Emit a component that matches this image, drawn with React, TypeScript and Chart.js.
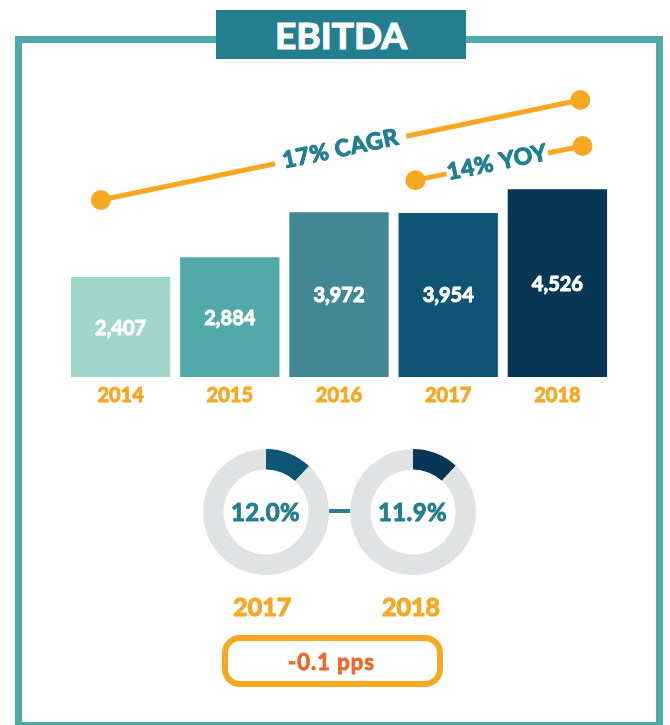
import React, { useEffect, useRef } from "react";
import { Chart, registerables } from "chart.js";

Chart.register(...registerables);

// ---- data ----
const years = ["2014", "2015", "2016", "2017", "2018"];
const ebitda = [2407, 2884, 3972, 3954, 4526];
const barColors = ["#A1D7CB", "#51A9A9", "#418794", "#0E5475", "#083756"];

const marginYears = ["2017", "2018"];
const marginValues = [12.0, 11.9];
const marginColors = ["#0E5475", "#083756"];
const marginChange = "-0.1 pps";

const cagrLabel = "17% CAGR";
const yoyLabel = "14% YOY";
// annotation end points: x as category index, y in EBITDA units
const cagrX = [-0.18, 4.21];
const cagrY = [4265, 6675];
const yoyX = [2.7, 4.23];
const yoyY = [4740, 5566];

const ORANGE = "#F7A823";
const TEAL = "#237F8F";
const FONT = "Lato, 'Open Sans', sans-serif";
const W = 700;

const heavy = (color: string, w = 0.8) => ({
  WebkitTextStroke: `${w}px ${color}`,
});

const annotationPlugin = {
  id: "annotations",
  afterDatasetsDraw(chart: any) {
    const ctx = chart.ctx;
    const meta = chart.getDatasetMeta(0);
    ctx.save();
    ctx.fillStyle = "#FFFFFF";
    ctx.strokeStyle = "#FFFFFF";
    ctx.lineWidth = 1;
    ctx.lineJoin = "round";
    ctx.font = `${W} 20px ${FONT}`;
    ctx.textAlign = "center";
    ctx.textBaseline = "middle";
    meta.data.forEach((bar: any, i: number) => {
      const t = ebitda[i].toLocaleString("en-US");
      const yy = (bar.y + bar.base) / 2 + 1;
      ctx.strokeText(t, bar.x, yy);
      ctx.fillText(t, bar.x, yy);
    });
    ctx.restore();

    const xs = chart.scales.x;
    const ys = chart.scales.y;
    const draw = (px: number[], py: number[], label: string, frac: number, pad: number) => {
      const x1 = xs.getPixelForValue(px[0]);
      const y1 = ys.getPixelForValue(py[0]);
      const x2 = xs.getPixelForValue(px[1]);
      const y2 = ys.getPixelForValue(py[1]);
      const len = Math.hypot(x2 - x1, y2 - y1);
      const ux = (x2 - x1) / len;
      const uy = (y2 - y1) / len;
      const angle = Math.atan2(y2 - y1, x2 - x1);
      ctx.save();
      ctx.font = `${W} 23px ${FONT}`;
      if ("letterSpacing" in ctx) (ctx as any).letterSpacing = "0.6px";
      const w = ctx.measureText(label).width;
      const cx = x1 + (x2 - x1) * frac;
      const cy = y1 + (y2 - y1) * frac;
      const h = w / 2 + pad;
      ctx.strokeStyle = ORANGE;
      ctx.lineWidth = 5;
      ctx.lineCap = "butt";
      ctx.beginPath();
      ctx.moveTo(x1, y1);
      ctx.lineTo(cx - ux * h, cy - uy * h);
      ctx.moveTo(cx + ux * h, cy + uy * h);
      ctx.lineTo(x2, y2);
      ctx.stroke();
      ctx.fillStyle = ORANGE;
      [[x1, y1], [x2, y2]].forEach(([a, b]) => {
        ctx.beginPath();
        ctx.arc(a, b, 10, 0, Math.PI * 2);
        ctx.fill();
      });
      ctx.translate(cx, cy);
      ctx.rotate(angle);
      ctx.fillStyle = TEAL;
      ctx.strokeStyle = TEAL;
      ctx.lineWidth = 1.2;
      ctx.lineJoin = "round";
      ctx.textAlign = "center";
      ctx.textBaseline = "middle";
      ctx.strokeText(label, 0, -1);
      ctx.fillText(label, 0, -1);
      ctx.restore();
    };
    draw(cagrX, cagrY, cagrLabel, 0.5, 8);
    draw(yoyX, yoyY, yoyLabel, 0.49, 1);
  },
};

function BarChart() {
  const ref = useRef<HTMLCanvasElement>(null);
  useEffect(() => {
    const chart = new Chart(ref.current as HTMLCanvasElement, {
      type: "bar",
      data: {
        labels: years,
        datasets: [
          {
            data: ebitda,
            backgroundColor: barColors,
            borderWidth: 0,
            barPercentage: 0.91,
            categoryPercentage: 1,
          },
        ],
      },
      options: {
        animation: false,
        responsive: false,
        maintainAspectRatio: false,
        layout: { padding: { left: 66, right: 58, top: 45, bottom: 6 } },
        plugins: { legend: { display: false }, tooltip: { enabled: false } },
        scales: {
          x: {
            grid: { display: false, drawTicks: false },
            border: { display: false },
            ticks: {
              color: ORANGE,
              textStrokeColor: ORANGE,
              textStrokeWidth: 1,
              padding: 6.5,
              font: { family: FONT, size: 20, weight: W },
              maxRotation: 0,
            },
          },
          y: { display: false, min: 0, max: 8000 },
        },
      },
      plugins: [annotationPlugin],
    } as any);
    return () => chart.destroy();
  }, []);
  return (
    <canvas
      ref={ref}
      width={670}
      height={420}
      style={{ position: "absolute", left: 0, top: 0, width: 670, height: 420 }}
    />
  );
}

function Donut({ index, cx, cy }: { index: number; cx: number; cy: number }) {
  const ref = useRef<HTMLCanvasElement>(null);
  useEffect(() => {
    const v = marginValues[index];
    const chart = new Chart(ref.current as HTMLCanvasElement, {
      type: "doughnut",
      data: {
        labels: ["EBITDA margin", "Rest"],
        datasets: [
          {
            data: [v, 100 - v],
            backgroundColor: [marginColors[index], "#E1E2E4"],
            borderWidth: 0,
          },
        ],
      },
      options: {
        animation: false,
        responsive: false,
        maintainAspectRatio: false,
        cutout: "67.5%",
        rotation: 0,
        plugins: { legend: { display: false }, tooltip: { enabled: false } },
      },
    } as any);
    return () => chart.destroy();
  }, [index]);
  return (
    <>
      <canvas
        ref={ref}
        width={126}
        height={126}
        style={{ position: "absolute", left: cx - 63, top: cy - 63, width: 126, height: 126 }}
      />
      <div
        style={{
          position: "absolute",
          left: cx - 60,
          top: cy - 15,
          width: 120,
          height: 30,
          lineHeight: "30px",
          textAlign: "center",
          color: TEAL,
          fontFamily: FONT,
          fontWeight: W,
          fontSize: 24,
          letterSpacing: 0.4,
          ...heavy(TEAL, 1),
        }}
      >
        {marginValues[index].toFixed(1)}%
      </div>
    </>
  );
}

export default function App() {
  return (
    <div
      style={{
        position: "absolute",
        left: 0,
        top: 0,
        width: 670,
        height: 725,
        overflow: "hidden",
        background: "#FFFFFF",
        fontFamily: FONT,
      }}
    >
      <div
        style={{
          position: "absolute",
          left: 15,
          top: 36,
          width: 648,
          height: 693,
          border: "7.5px solid #4FABA9",
          boxSizing: "border-box",
        }}
      />
      <div
        style={{
          position: "absolute",
          left: 216,
          top: 10,
          width: 250,
          height: 49,
          background: TEAL,
          color: "#FFFFFF",
          fontWeight: W,
          fontSize: 37,
          display: "flex",
          alignItems: "center",
          justifyContent: "center",
          lineHeight: "49px",
          ...heavy("#FFFFFF", 1.2),
        }}
      >
        EBITDA
      </div>
      <BarChart />
      <div
        style={{
          position: "absolute",
          left: 328,
          top: 509,
          width: 22,
          height: 4,
          background: "#2A8090",
        }}
      />
      <Donut index={0} cx={265.5} cy={511.5} />
      <Donut index={1} cx={412.5} cy={511.5} />
      {marginYears.map((y, i) => (
        <div
          key={y}
          style={{
            position: "absolute",
            left: (i === 0 ? 262.3 : 411) - 60,
            top: 591,
            width: 120,
            height: 30,
            lineHeight: "30px",
            textAlign: "center",
            color: ORANGE,
            fontWeight: W,
            fontSize: 25,
            ...heavy(ORANGE, 1.2),
          }}
        >
          {y}
        </div>
      ))}
      <div
        style={{
          position: "absolute",
          left: 222,
          top: 635,
          width: 221,
          height: 52,
          border: `6px solid ${ORANGE}`,
          borderRadius: 18,
          boxSizing: "border-box",
          display: "flex",
          alignItems: "center",
          justifyContent: "center",
          paddingRight: 2,
          color: "#E9692B",
          fontWeight: W,
          fontSize: 22,
          letterSpacing: 1,
          ...heavy("#E9692B", 0.9),
        }}
      >
        {marginChange}
      </div>
    </div>
  );
}
